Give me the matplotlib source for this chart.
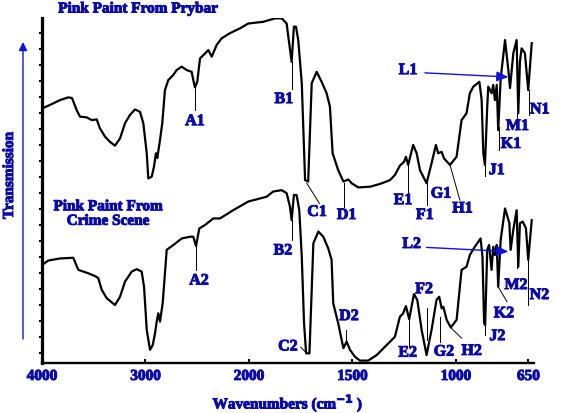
import numpy as np
import matplotlib
matplotlib.use("Agg")
import matplotlib.pyplot as plt
import matplotlib.patheffects as pe

# ---------------- data (wavenumber cm-1, transmission a.u.) ----------------
wn_prybar = [4000, 3923, 3826, 3746, 3710, 3665, 3633, 3568, 3520, 3471, 3440, 3391, 3343,
             3295, 3246, 3198, 3150, 3101, 3053, 3021, 2988, 2973, 2940, 2918, 2899, 2886,
             2860, 2838, 2812, 2780, 2731, 2699, 2650, 2602, 2554, 2538, 2522, 2500, 2473,
             2425, 2393, 2360, 2312, 2264, 2184, 2087, 2007, 1931, 1874, 1842, 1818, 1810,
             1794, 1783, 1773, 1762, 1745, 1729, 1714, 1697, 1673, 1649, 1625, 1609, 1596,
             1569, 1544, 1520, 1504, 1472, 1415, 1367, 1319, 1295, 1271, 1251, 1242, 1231,
             1207, 1190, 1174, 1142, 1118, 1097, 1086, 1069, 1058, 1029, 997, 973, 949, 933,
             916, 887, 876, 868, 860, 849, 844, 828, 820, 812, 803, 796, 784, 763, 747, 739,
             723, 707, 699, 691, 683, 667, 651, 634]
tr_prybar = [73.8, 74.8, 76.2, 77.0, 76.8, 73.3, 71.4, 71.2, 70.4, 70.6, 68.0, 65.6, 64.1,
             63.0, 65.1, 69.5, 71.9, 73.5, 72.8, 69.5, 60.8, 53.5, 54.0, 56.9, 60.8, 59.4,
             64.6, 69.5, 79.1, 82.0, 83.5, 84.9, 85.9, 84.9, 84.4, 82.0, 79.9, 81.5, 88.3,
             89.7, 90.7, 88.8, 92.2, 94.1, 95.6, 97.0, 98.4, 98.9, 99.9, 99.9, 98.4, 94.6,
             87.3, 97.5, 97.5, 93.6, 81.1, 53.0, 52.6, 81.1, 84.4, 81.5, 78.2, 74.3, 60.8,
             55.9, 52.6, 53.2, 52.1, 50.9, 51.1, 51.9, 53.0, 54.5, 57.2, 58.3, 59.8, 57.4,
             63.2, 60.8, 55.9, 52.1, 57.9, 63.2, 60.8, 61.2, 59.3, 57.4, 59.8, 70.4, 72.4, 78.2,
             80.1, 81.5, 76.2, 60.8, 57.4, 74.3, 80.1, 78.2, 80.6, 76.2, 80.6, 67.5, 82.5, 93.6,
             84.9, 79.7, 89.8, 93.6, 72.4, 87.3, 91.2, 89.8, 79.1, 92.7]

wn_scene = [4000, 3939, 3826, 3698, 3649, 3601, 3553, 3488, 3456, 3423, 3375, 3295, 3246,
            3198, 3133, 3085, 3037, 3014, 2988, 2956, 2930, 2908, 2892, 2876, 2860, 2834,
            2812, 2795, 2731, 2650, 2570, 2538, 2512, 2480, 2425, 2345, 2280, 2152, 2007,
            1915, 1883, 1842, 1818, 1802, 1794, 1783, 1770, 1757, 1745, 1734, 1724, 1708,
            1697, 1689, 1665, 1641, 1617, 1601, 1593, 1569, 1544, 1528, 1512, 1488, 1464,
            1424, 1383, 1335, 1295, 1271, 1255, 1242, 1226, 1203, 1187, 1166, 1142, 1118,
            1094, 1081, 1069, 1061, 1045, 1025, 997, 973, 949, 933, 909, 881, 872, 864, 859,
            849, 840, 828, 820, 812, 803, 796, 784, 763, 742, 736, 723, 707, 699, 691, 678,
            662, 651, 634]
tr_scene = [28.4, 29.7, 30.3, 30.5, 27.0, 26.5, 26.0, 25.2, 24.6, 21.2, 18.8, 16.8, 19.2,
            23.6, 26.5, 27.2, 26.5, 22.1, 9.6, 3.8, 5.2, 8.6, 12.0, 14.4, 12.0, 17.3,
            26.0, 32.8, 34.2, 36.1, 36.6, 36.6, 33.9, 39.0, 40.0, 41.9, 41.9, 44.3, 46.8,
            48.2, 49.7, 50.1, 49.2, 45.3, 41.4, 48.7, 48.7, 44.3, 30.8, 11.5, 2.8, 2.8,
            21.2, 34.7, 38.1, 36.6, 33.2, 29.9, 17.3, 11.5, 4.3, 6.2, 3.8, 1.8, 0.7,
            0.7, 2.3, 5.2, 7.6, 13.4, 14.4, 16.5, 12.7, 20.0, 18.3, 9.6, 2.3, 9.6,
            18.3, 19.2, 15.8, 16.3, 12.5, 10.3, 12.5, 27.0, 27.9, 31.3, 33.7, 36.1, 30.8, 11.5, 11.0,
            32.8, 34.2, 27.0, 33.7, 31.3, 34.2, 22.1, 35.7, 44.8, 40.5, 32.8, 38.6, 44.3, 27.9, 40.5, 41.0,
            39.1, 29.9, 41.4]

tick_values = [4000, 3000, 2000, 1500, 1000, 650]
tick_labels = ["4000", "3000", "2000", "1500", "1000", "650"]

# ---------------- styling ----------------
BLUE = "#0A0AA8"
ARROW = "#1010E0"
FONT = ["Liberation Serif", "DejaVu Serif"]
plt.rcParams["font.family"] = FONT
plt.rcParams["font.weight"] = "bold"
HEAVY = [pe.withStroke(linewidth=0.7, foreground=BLUE)]


def fwd(x):
    x = np.asarray(x, dtype=float)
    return np.where(x >= 2000, x, 2 * x - 2000)


def inv(y):
    y = np.asarray(y, dtype=float)
    return np.where(y >= 2000, y, (y + 2000) / 2)


fig = plt.figure(figsize=(5.65, 4.13), dpi=100)
ax = fig.add_axes([42 / 565, 1 - 363 / 413, (533.6 - 42) / 565, (363 - 18) / 413])
ax.set_xscale("function", functions=(fwd, inv))
ax.set_xlim(4000, 625)
ax.set_ylim(0, 100)

ax.plot(wn_prybar, tr_prybar, color="black", lw=1.6, solid_joinstyle="round")
ax.plot(wn_scene, tr_scene, color="black", lw=1.6, solid_joinstyle="round")

for s in ["top", "right"]:
    ax.spines[s].set_visible(False)
ax.spines["left"].set_linewidth(2.3)
ax.spines["bottom"].set_linewidth(1.7)

ax.set_xticks(tick_values)
ax.set_xticklabels(tick_labels)
ax.xaxis.set_minor_locator(matplotlib.ticker.NullLocator())
ax.tick_params(axis="x", direction="in", length=3, width=1.5, pad=5,
               labelsize=11, labelcolor=BLUE)
ax.set_yticks(np.linspace(2.8, 95.6, 21))
ax.set_yticklabels([])
ax.tick_params(axis="y", direction="out", length=2.5, width=1.5)
for t in ax.get_xticklabels():
    t.set_fontweight("bold")
    t.set_path_effects(HEAVY)

xl = ax.set_xlabel("Wavenumbers (cm$^{\\mathbf{-1}}$ )", color=BLUE, fontsize=11,
                   fontweight="bold", labelpad=7)
xl.set_path_effects(HEAVY)

# peak labels: (text, text x, text y, line segment)
labels = [
    ("A1", 2522, 70.1, [(2522, 79.9), (2522, 73.3)]),
    ("B1", 1831, 76.5, [(1794, 87.2), (1794, 79.4)]),
    ("C1", 1671, 43.8, [(1721, 52.1), (1660, 46.3)]),
    ("D1", 1528, 42.9, [(1540, 52.2), (1540, 45.3)]),
    ("E1", 1255, 47.2, [(1231, 57.4), (1231, 49.7)]),
    ("F1", 1150, 42.9, [(1142, 52.1), (1142, 45.8)]),
    ("G1", 1072, 49.1, None),
    ("H1", 968, 44.8, [(1029, 57.4), (981, 47.2)]),
    ("J1", 803, 55.9, [(858, 57.4), (858, 54.2)]),
    ("K1", 734, 63.5, [(791, 68.4), (791, 61.7)]),
    ("M1", 703, 68.7, [(704, 72.5), (704, 71.0)]),
    ("N1", 595, 73.5, [(646, 79.1), (646, 71.9)]),
    ("L1", 1231, 84.9, None),
    ("A2", 2483, 23.9, [(2512, 33.9), (2512, 27.0)]),
    ("B2", 1836, 32.6, [(1794, 41.4), (1794, 35.7)]),
    ("C2", 1812, 4.8, [(1750, 4.6), (1729, 3.3)]),
    ("D2", 1517, 13.6, [(1533, 9.6), (1533, 6.2)]),
    ("E2", 1233, 3.0, [(1226, 12.5), (1226, 4.7)]),
    ("F2", 1154, 21.4, [(1142, 15.9), (1142, 6.7)]),
    ("G2", 1058, 3.3, [(1075, 13.4), (1075, 6.2)]),
    ("H2", 924, 3.5, [(1026, 10.3), (973, 7.2)]),
    ("J2", 800, 7.8, [(858, 11.3), (858, 8.1)]),
    ("K2", 768, 14.4, [(796, 22.1), (754, 17.8)]),
    ("M2", 710, 22.6, [(704, 30.7), (704, 27.5)]),
    ("N2", 597, 19.7, [(651, 29.9), (651, 16.8)]),
    ("L2", 1214, 34.5, None),
]
for txt, x, y, seg in labels:
    ax.text(x, y, txt, color=BLUE, fontsize=11.5, fontweight="bold",
            ha="center", va="center", clip_on=False, path_effects=HEAVY)
    if seg is not None:
        ax.plot([seg[0][0], seg[1][0]], [seg[0][1], seg[1][1]], color="black",
                lw=0.7, clip_on=False)

# L arrows
for (x0, y0), (x1, y1) in [((1150, 84.1), (747, 82.9)), ((1142, 33.5), (747, 32.3))]:
    ax.annotate("", xy=(x1, y1), xytext=(x0, y0),
                arrowprops=dict(arrowstyle="-|>,head_length=0.7,head_width=0.3",
                                color=ARROW, lw=1.0, shrinkA=0, shrinkB=0))

# titles
fig.text(138 / 565, 1 - 9 / 413, "Pink Paint From Prybar", color=BLUE, fontsize=11,
         fontweight="bold", ha="center", va="center", path_effects=HEAVY)
fig.text(108 / 565, 1 - 214 / 413, "Pink Paint From\nCrime Scene", color=BLUE,
         fontsize=11, fontweight="bold", ha="center", va="center", linespacing=1.15,
         path_effects=HEAVY)

# y label and arrow
fig.text(9.5 / 565, 1 - 175.5 / 413, "Transmission", color=BLUE, fontsize=11,
         fontweight="bold", ha="center", va="center", rotation=90, path_effects=HEAVY)
fig.add_artist(matplotlib.patches.FancyArrowPatch(
    (23 / 565, 1 - 339 / 413), (23 / 565, 1 - 42 / 413), transform=fig.transFigure,
    arrowstyle="-|>,head_length=5,head_width=2.5", color=ARROW, lw=1.0,
    shrinkA=0, shrinkB=0))

fig.savefig("out.png", dpi=100)
